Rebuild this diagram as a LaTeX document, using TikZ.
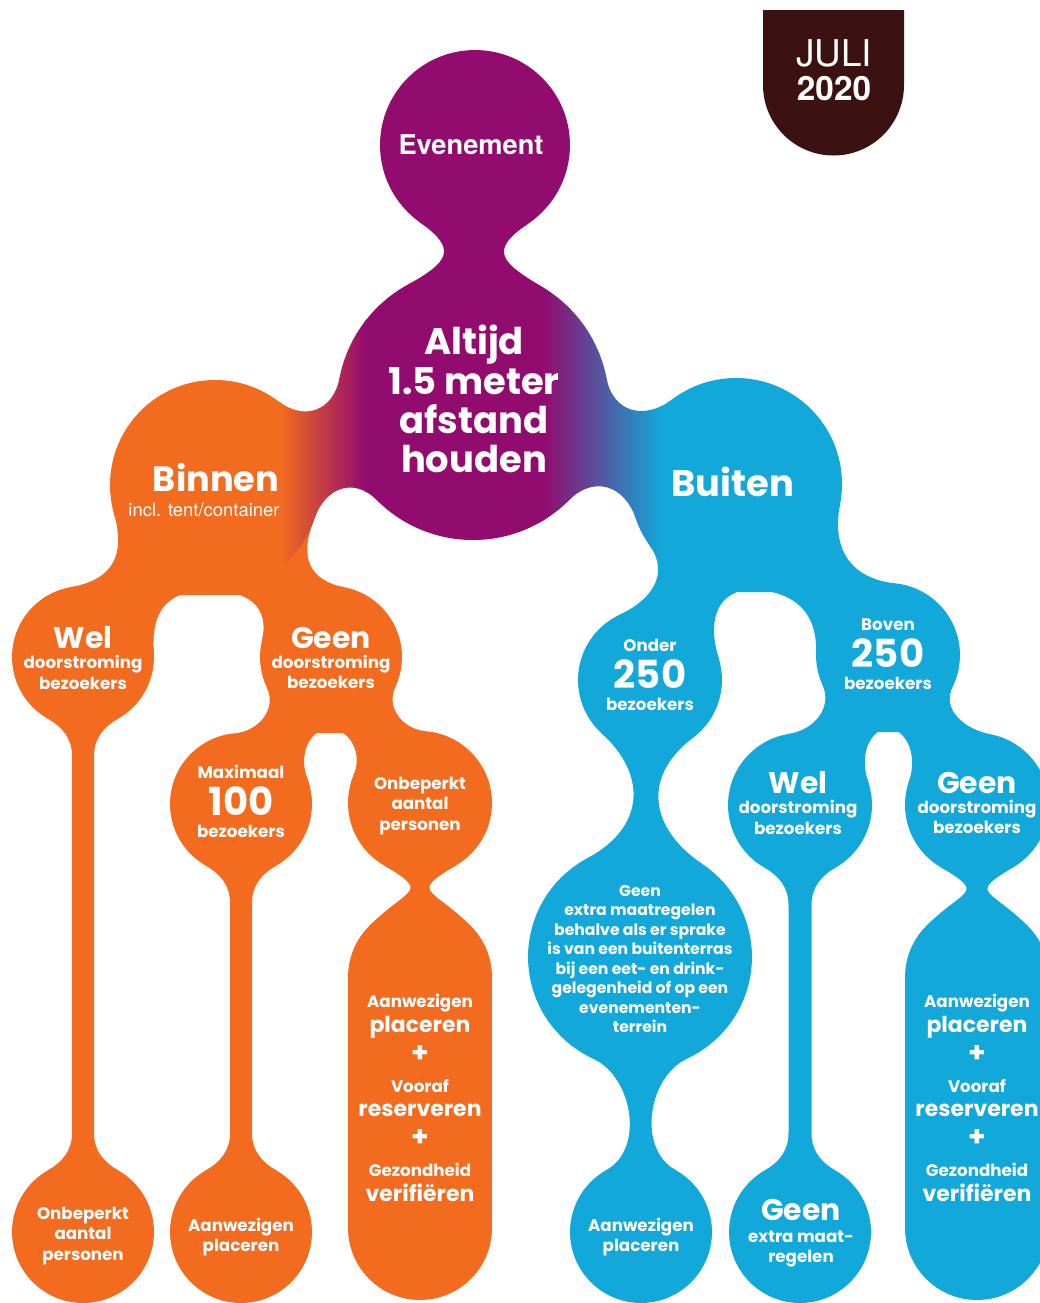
\documentclass[tikz,border=0pt]{standalone}
\usepackage{fontspec}
\setmainfont{Poppins}
\newfontfamily\heros{TeX Gyre Heros}
\usetikzlibrary{calc}

\definecolor{oranje}{HTML}{F36B1E}
\definecolor{blauw}{HTML}{12A8D9}
\definecolor{paars}{HTML}{920B6E}
\definecolor{bruin}{HTML}{3B1111}

% hals tussen twee bollen: [stijl]{A}{B}{hoek A}{hoek B}{looseness}
\newcommand\neck[6][]{%
  \pgfpointdiff{\pgfpointanchor{#2}{center}}{\pgfpointanchor{#3}{center}}%
  \pgfgetlastxy{\nkdx}{\nkdy}%
  \pgfmathsetmacro\nkphi{atan2(\nkdy,\nkdx)}%
  \pgfmathtruncatemacro\nkAa{mod(\nkphi-#4+720,360)}%
  \pgfmathtruncatemacro\nkAb{mod(\nkphi+#4+720,360)}%
  \pgfmathtruncatemacro\nkBa{mod(\nkphi+180+#5+720,360)}%
  \pgfmathtruncatemacro\nkBb{mod(\nkphi+180-#5+720,360)}%
  \pgfmathtruncatemacro\nkOa{\nkphi+90-#4}%
  \pgfmathtruncatemacro\nkIa{\nkphi+90+#5}%
  \pgfmathtruncatemacro\nkOb{\nkphi+270-#5}%
  \pgfmathtruncatemacro\nkIb{\nkphi+270+#4}%
  \path[#1] (#2.\nkAa) to[out=\nkOa, in=\nkIa, looseness=#6] (#3.\nkBa)
    -- (#3.\nkBb) to[out=\nkOb, in=\nkIb, looseness=#6] (#2.\nkAb) -- cycle;}

% steel van bol A naar bol B: [stijl]{A}{B}{halve breedte}
\newcommand\steel[4][]{%
  \path[#1] (#2.240) to[out=-30, in=90] ($(#2.south)+(-#4,28)$)
    -- ($(#3.north)+(-#4,-28)$) to[out=-90, in=30] (#3.120)
    -- (#3.60) to[out=150, in=-90] ($(#3.north)+(#4,-28)$)
    -- ($(#2.south)+(#4,28)$) to[out=90, in=210] (#2.300) -- cycle;}

% vulling boven het gat tussen twee takken: [stijl]{top}{links}{rechts}{bovenkant gat}{halve breedte}
\newcommand\gat[6][]{%
  \path[#1] (#2.center) -- (#3.center) -- (#3.15) to[out=105, in=180] ($(#5)+(-#6,0)$)
    -- ($(#5)+(#6,0)$) to[out=0, in=75] (#4.165) -- (#4.center) -- cycle;}

% kleurverloop oranje - paars - blauw
\newcommand\verloop{%
  \fill[oranje] (0,230) rectangle (282,620);
  \shade[left color=oranje, right color=paars] (280,230) rectangle (366,620);
  \fill[paars] (364,230) rectangle (545,620);
  \shade[left color=paars, right color=blauw] (543,230) rectangle (662,620);
  \fill[blauw] (660,230) rectangle (1040,620);}

\newcommand\groot[1]{{\fontsize{17}{17}\selectfont #1}}
\newcommand\getal[1]{{\fontsize{22}{22}\selectfont #1}}
\newcommand\middel[1]{{\fontsize{12.5}{13}\selectfont #1}}
\newcommand\plusteken{{\fontsize{16}{16}\selectfont +}}

\begin{document}
\begin{tikzpicture}[
    x=0.02cm, y=-0.02cm,
    ball/.style={circle, inner sep=0pt, outer sep=0pt, minimum size=#1*0.04cm},
    txt/.style={text=white, align=center, inner sep=0pt, font=\bfseries\fontsize{9.5}{11.5}\selectfont},
    klein/.style={txt, font=\bfseries\fontsize{8.9}{11.1}\selectfont},
    kop/.style={txt, font=\bfseries\fontsize{21}{22.3}\selectfont},
    pil/.style={txt, font=\bfseries\fontsize{9.5}{14}\selectfont}
]
\useasboundingbox (0,0) rectangle (1040,1303);

% maand
\fill[bruin] (763,10) -- (904,10) -- (904,85) arc[start angle=0, end angle=180, radius=70.5] -- cycle;
\node[text=white, font=\heros\fontsize{21}{21}\selectfont] (juli) at (834,53) {JULI};
\node[text=white, font=\heros\bfseries\fontsize{19}{19}\selectfont] (jaar) at (834,89) {2020};

% bollen bovenaan
\node[ball=95, fill=paars] (even) at (475,145) {};
\node[ball=136] (altijd) at (473,404) {};
\node[ball=105] (binnen) at (215,485) {};
\node[ball=106] (buiten) at (736,484) {};

% binnen (oranje)
\node[ball=71, fill=oranje] (welO) at (83,657) {};
\node[ball=71, fill=oranje] (geenO) at (331,657) {};
\node[ball=71, fill=oranje] (maxO) at (241,804) {};
\node[ball=72, fill=oranje] (onbO) at (420,803) {};
\node[ball=72, fill=oranje] (pilO) at (420,977) {};
\node[ball=72, fill=oranje] (pilOe) at (420,1228) {};
\node[ball=71, fill=oranje] (onbOb) at (83,1232) {};
\node[ball=71, fill=oranje] (aanwO) at (241,1232) {};
\fill[oranje] (pilO.west) rectangle (pilOe.east);

% buiten (blauw)
\node[ball=72, fill=blauw] (onder) at (650,680) {};
\node[ball=72, fill=blauw] (boven) at (888,655) {};
\node[ball=112, fill=blauw] (extra) at (640,957) {};
\node[ball=72, fill=blauw] (welB) at (800,805) {};
\node[ball=72, fill=blauw] (geenB) at (977,805) {};
\node[ball=72, fill=blauw] (pilB) at (977,977) {};
\node[ball=72, fill=blauw] (pilBe) at (977,1228) {};
\node[ball=71, fill=blauw] (aanwB) at (641,1232) {};
\node[ball=71, fill=blauw] (geenBb) at (800,1232) {};
\fill[blauw] (pilB.west) rectangle (pilBe.east);

% halzen
\neck[fill=paars]{even}{altijd}{35}{30}{1.9}
\neck[fill=oranje]{binnen}{welO}{37}{48}{1.3}
\neck[fill=oranje]{binnen}{geenO}{36}{44}{1.3}
\neck[fill=oranje]{geenO}{maxO}{33}{37}{1.1}
\neck[fill=oranje]{geenO}{onbO}{34}{36}{1.1}
\neck[fill=oranje]{onbO}{pilO}{31}{45}{2.3}
\neck[fill=blauw]{buiten}{onder}{31}{49}{1.2}
\neck[fill=blauw]{buiten}{boven}{38}{47}{1.2}
\neck[fill=blauw]{onder}{extra}{40}{31}{1.3}
\neck[fill=blauw]{extra}{aanwB}{25}{29}{1}
\neck[fill=blauw]{boven}{welB}{35}{40}{1.1}
\neck[fill=blauw]{boven}{geenB}{34}{41}{1.1}
\neck[fill=blauw]{geenB}{pilB}{31}{45}{2.3}

% gaten tussen de takken
\coordinate (gatO1) at (212,595);
\coordinate (gatO2) at (331,733);
\coordinate (gatB1) at (762,592);
\coordinate (gatB2) at (889,732);
\gat[fill=oranje]{binnen}{welO}{geenO}{gatO1}{40}
\gat[fill=oranje]{geenO}{maxO}{onbO}{gatO2}{25}
\gat[fill=blauw]{buiten}{onder}{boven}{gatB1}{40}
\gat[fill=blauw]{boven}{welB}{geenB}{gatB2}{30}

% stelen
\steel[fill=oranje]{welO}{onbOb}{11}
\steel[fill=oranje]{maxO}{aanwO}{11}
\steel[fill=blauw]{welB}{geenBb}{11.5}

% verloop over binnen, altijd en buiten
\begin{scope}\clip (binnen.center) circle[radius=105]; \verloop\end{scope}
\begin{scope}\clip (altijd.center) circle[radius=136]; \verloop\end{scope}
\begin{scope}\clip (buiten.center) circle[radius=106]; \verloop\end{scope}
\begin{scope}\neck[clip]{binnen}{altijd}{36}{28}{1.3}\verloop\end{scope}
\begin{scope}\neck[clip]{altijd}{buiten}{28}{36}{1.3}\verloop\end{scope}

% teksten
\node[txt, font=\heros\bfseries\fontsize{15.5}{16}\selectfont] (evenT) at (471,145) {Evenement};
\node[kop] (altijdT) at (474,399) {Altijd\\1.5 meter\\afstand\\houden};
\node[kop, font=\bfseries\fontsize{20}{20}\selectfont] (binnenT) at (216,478) {Binnen};
\node[txt, font=\heros\fontsize{10.5}{12}\selectfont] (inclT) at (204,510) {incl. tent/container};
\node[kop] (buitenT) at (733,482) {Buiten};

\node[txt] (welOT) at (83,658) {\groot{Wel}\\doorstroming\\bezoekers};
\node[txt] (geenOT) at (331,658) {\groot{Geen}\\doorstroming\\bezoekers};
\node[txt] (maxOT) at (241,801) {Maximaal\\[3.5pt]\getal{100}\\[1pt]bezoekers};
\node[txt] (onbOT) at (420,806) {Onbeperkt\\aantal\\personen};
\node[pil] (pilOT) at (420,1098) {Aanwezigen\\\middel{placeren}\\[3pt]\plusteken\\[3pt]Vooraf\\\middel{reserveren}\\[3pt]\plusteken\\[3pt]Gezondheid\\\middel{verifiëren}};
\node[txt] (onbObT) at (83,1236) {Onbeperkt\\aantal\\personen};
\node[txt] (aanwOT) at (241,1237) {Aanwezigen\\placeren};

\node[txt] (onderT) at (650,675) {Onder\\[3.5pt]\getal{250}\\[1pt]bezoekers};
\node[txt] (bovenT) at (888,654) {Boven\\[3.5pt]\getal{250}\\[1pt]bezoekers};
\node[klein] (extraT) at (640,959) {Geen\\extra maatregelen\\behalve als er sprake\\is van een buitenterras\\bij een eet- en drink-\\gelegenheid of op een\\evenementen-\\terrein};
\node[txt] (welBT) at (798,803) {\groot{Wel}\\doorstroming\\bezoekers};
\node[txt] (geenBT) at (977,803) {\groot{Geen}\\doorstroming\\bezoekers};
\node[pil] (pilBT) at (977,1098) {Aanwezigen\\\middel{placeren}\\[3pt]\plusteken\\[3pt]Vooraf\\\middel{reserveren}\\[3pt]\plusteken\\[3pt]Gezondheid\\\middel{verifiëren}};
\node[txt] (aanwBT) at (641,1237) {Aanwezigen\\placeren};
\node[txt] (geenBbT) at (801,1233) {\groot{Geen}\\[1pt]extra maat-\\regelen};
\end{tikzpicture}
\end{document}
